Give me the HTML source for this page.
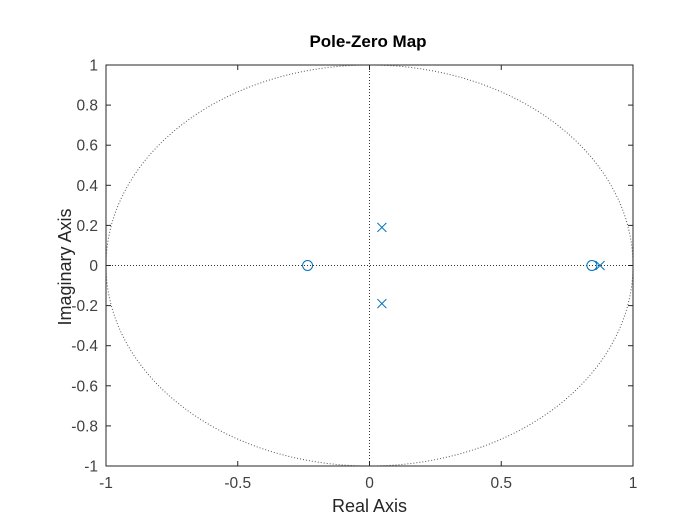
<!DOCTYPE html>
<html><head><meta charset="utf-8"><style>
html,body{margin:0;padding:0;background:#fff;}
svg{display:block;font-family:"Liberation Sans",sans-serif;}
</style></head><body>
<svg id="c" width="700" height="525" xmlns="http://www.w3.org/2000/svg">
<rect x="0" y="0" width="700" height="525" fill="#fff"/>
<text x="368" y="47" text-anchor="middle" font-size="17" font-weight="bold" fill="#000">Pole-Zero Map</text>
<text x="369.5" y="512" text-anchor="middle" font-size="18" fill="#262626">Real Axis</text>
<text transform="translate(71,267) rotate(-90)" text-anchor="middle" font-size="18" fill="#262626">Imaginary Axis</text>
<g id="plot"></g>
</svg>
<script>
const xTicks=[-1,-0.5,0,0.5,1];
const xTickLabels=["-1","-0.5","0","0.5","1"];
const yTicks=[-1,-0.8,-0.6,-0.4,-0.2,0,0.2,0.4,0.6,0.8,1];
const yTickLabels=["-1","-0.8","-0.6","-0.4","-0.2","0","0.2","0.4","0.6","0.8","1"];
const zerosRe=[-0.235,0.844];
const zerosIm=[0,0];
const polesRe=[0.047,0.047,0.875];
const polesIm=[0.19,-0.19,0];
const L=106,R=633,T=65,B=466;
const sx=v=>L+(v+1)/2*(R-L);
const sy=v=>B-(v+1)/2*(B-T);
const NS="http://www.w3.org/2000/svg";
const g=document.getElementById('plot');
function mk(t,a){const e=document.createElementNS(NS,t);for(const k in a)e.setAttribute(k,a[k]);g.appendChild(e);return e;}
let e=mk('ellipse',{cx:sx(0),cy:sy(0),rx:sx(1)-sx(0),ry:sy(0)-sy(1),fill:'none',stroke:'#555','stroke-width':1,'stroke-dasharray':'1,2'});


e=mk('line',{x1:L,y1:sy(0),x2:R,y2:sy(0),stroke:'#333','stroke-width':1,'stroke-dasharray':'1,2'});


e=mk('line',{x1:sx(0),y1:T,x2:sx(0),y2:B,stroke:'#333','stroke-width':1,'stroke-dasharray':'1,2'});


e=mk('rect',{x:L,y:T,width:R-L,height:B-T,fill:'none',stroke:'#262626','stroke-width':1});


xTicks.forEach((v,i)=>{
  let t=mk('line',{x1:sx(v),y1:B,x2:sx(v),y2:B-5,stroke:'#262626'});
  
  
  t=mk('line',{x1:sx(v),y1:T,x2:sx(v),y2:T+5,stroke:'#262626'});
  
  
  const l=mk('text',{x:sx(v),y:B+22,'text-anchor':'middle','font-size':15.5,fill:'#404040'});
  l.textContent=xTickLabels[i];
  
  
});
yTicks.forEach((v,i)=>{
  let t=mk('line',{x1:L,y1:sy(v),x2:L+5,y2:sy(v),stroke:'#262626'});
  
  
  t=mk('line',{x1:R,y1:sy(v),x2:R-5,y2:sy(v),stroke:'#262626'});
  
  
  const l=mk('text',{x:L-8,y:sy(v)+5.5,'text-anchor':'end','font-size':15.5,fill:'#404040'});
  l.textContent=yTickLabels[i];
  
  
});
const col='#0072BD';
zerosRe.forEach((r,i)=>{
  const c=mk('circle',{cx:sx(r),cy:sy(zerosIm[i]),r:5,fill:'none',stroke:col,'stroke-width':1});
  
  
});
polesRe.forEach((r,i)=>{
  const x=sx(r),y=sy(polesIm[i]),d=4.5;
  const p=mk('path',{d:`M${x-d},${y-d}L${x+d},${y+d}M${x-d},${y+d}L${x+d},${y-d}`,stroke:col,'stroke-width':1,fill:'none'});
  
  
});
</script>
</body></html>
